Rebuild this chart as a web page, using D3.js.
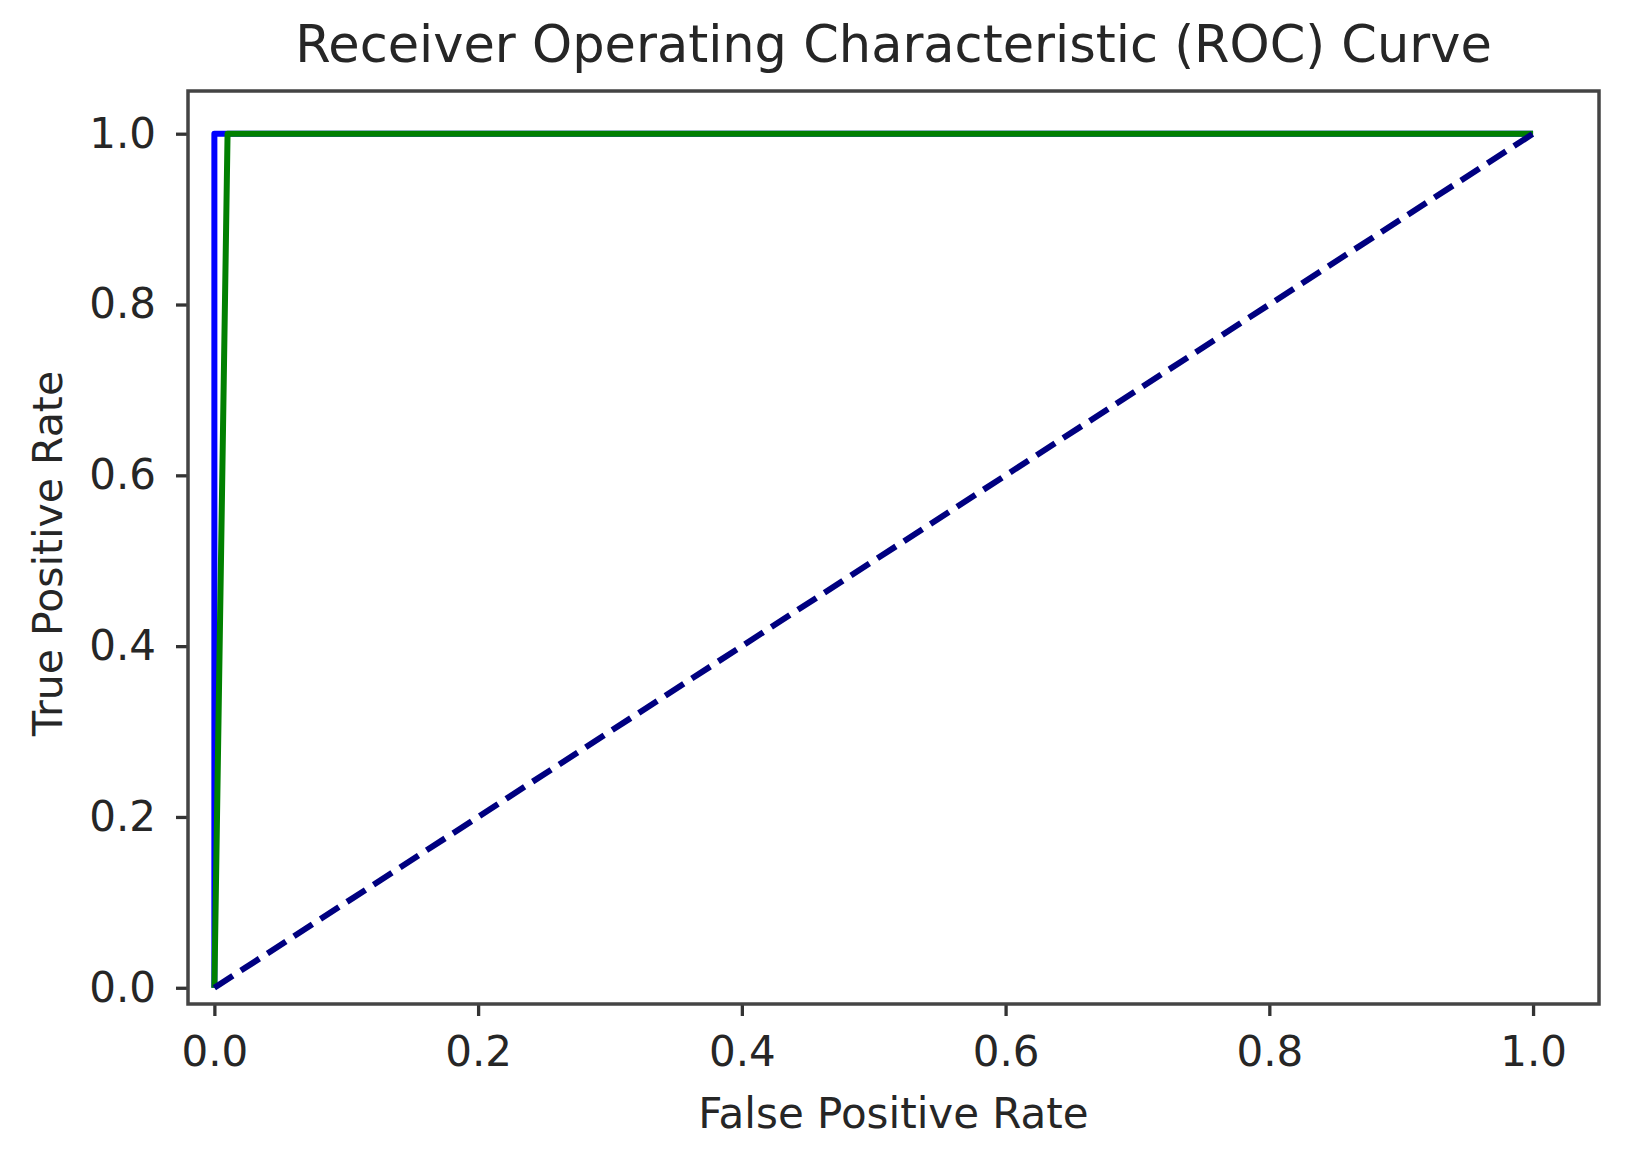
<!DOCTYPE html>
<html>
<head>
<meta charset="utf-8">
<script src="https://cdn.jsdelivr.net/npm/d3@7"></script>
<style>
  body { margin: 0; background: #fff; }
  text { font-family: "DejaVu Sans", sans-serif; fill: #262626; }
</style>
</head>
<body>
<div id="roc"></div>
<script>
// ROC curve, two models plus the chance diagonal

const WIDTH = 1630
const HEIGHT = 1164
const PLOT = {LEFT: 188, RIGHT: 1599, TOP: 91, BOTTOM: 1004}

// data
const fprBlue = [0, 0, 1]
const tprBlue = [0, 1, 1]
const fprGreen = [0, 0.01, 1]
const tprGreen = [0, 1, 1]
const chanceLine = [0, 1]
const tickValues = [0, 0.2, 0.4, 0.6, 0.8, 1.0]

const svg = d3.select("#roc")
  .append("svg")
    .attr("width", WIDTH)
    .attr("height", HEIGHT)

let xScale = d3.scaleLinear()
  .domain([-0.02, 1.05])
  .range([PLOT.LEFT, PLOT.RIGHT])

let yScale = d3.scaleLinear()
  .domain([-0.019, 1.05])
  .range([PLOT.BOTTOM, PLOT.TOP])

// AXES (matplotlib look: frame drawn separately, no domain path)
let xAxis = d3.axisBottom(xScale)
  .tickValues(tickValues)
  .tickFormat(d3.format(".1f"))
  .tickSize(12)
  .tickSizeOuter(0)
  .tickPadding(20)

let yAxis = d3.axisLeft(yScale)
  .tickValues(tickValues)
  .tickFormat(d3.format(".1f"))
  .tickSize(12)
  .tickSizeOuter(0)
  .tickPadding(20)

for (const [axis, tr] of [[xAxis, `translate(0,${PLOT.BOTTOM})`],
                          [yAxis, `translate(${PLOT.LEFT},0)`]]) {
  let g = svg.append("g").attr("transform", tr).call(axis)
  g.select(".domain").remove()
  g.selectAll(".tick line").attr("stroke", "#333").attr("stroke-width", 3.3)
  g.selectAll(".tick text")
    .attr("font-size", 42)
    .attr("font-family", "DejaVu Sans, sans-serif")
    .attr("fill", "#262626")
}

// CURVES
let line = d3.line()
  .x(d => xScale(d[0]))
  .y(d => yScale(d[1]))

const curves = [
  {pts: d3.zip(fprBlue, tprBlue), color: "blue", dash: null},
  {pts: d3.zip(fprGreen, tprGreen), color: "green", dash: null},
  {pts: d3.zip(chanceLine, chanceLine), color: "navy", dash: "22,9.6"}
]

svg.selectAll("myCurves")
  .data(curves)
  .enter()
  .append("path")
    .attr("d", c => line(c.pts))
    .attr("fill", "none")
    .attr("stroke", c => c.color)
    .attr("stroke-width", 6)
    .attr("stroke-linejoin", "round")
    .attr("stroke-dasharray", c => c.dash)

// frame
svg.append("rect")
  .attr("x", PLOT.LEFT)
  .attr("y", PLOT.TOP)
  .attr("width", PLOT.RIGHT - PLOT.LEFT)
  .attr("height", PLOT.BOTTOM - PLOT.TOP)
  .attr("fill", "none")
  .attr("stroke", "#444")
  .attr("stroke-width", 3.5)

// TEXTS
svg.append("text")
  .attr("x", (PLOT.LEFT + PLOT.RIGHT) / 2)
  .attr("y", 62)
  .attr("text-anchor", "middle")
  .attr("font-size", 51)
  .text("Receiver Operating Characteristic (ROC) Curve")

svg.append("text")
  .attr("x", (PLOT.LEFT + PLOT.RIGHT) / 2)
  .attr("y", 1128)
  .attr("text-anchor", "middle")
  .attr("font-size", 42)
  .text("False Positive Rate")

svg.append("text")
  .attr("transform", `translate(62,${(PLOT.TOP + PLOT.BOTTOM) / 2 + 6}) rotate(-90)`)
  .attr("text-anchor", "middle")
  .attr("font-size", 41)
  .text("True Positive Rate")
</script>
</body>
</html>
